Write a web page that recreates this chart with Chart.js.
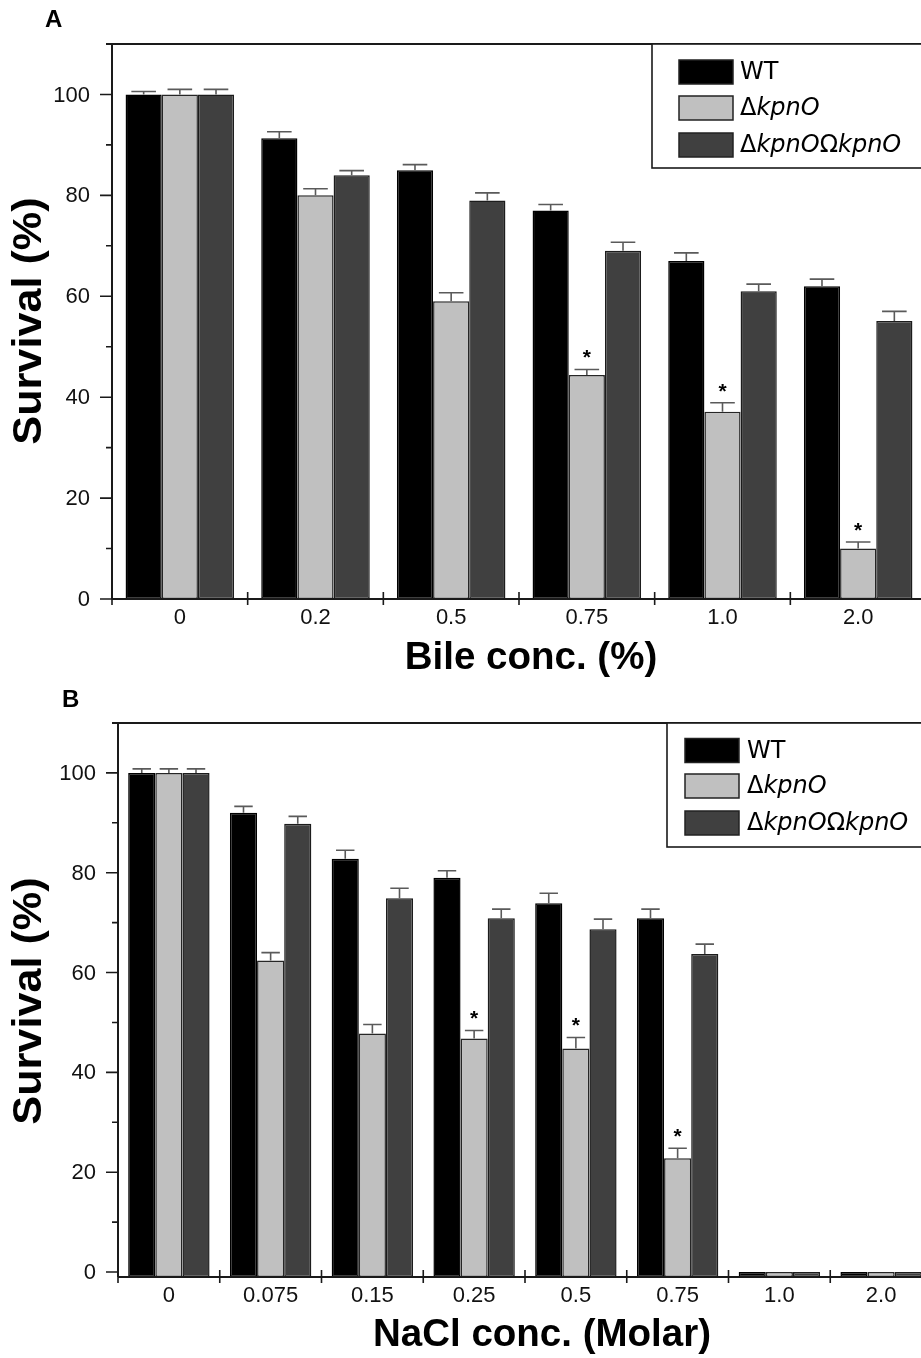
<!DOCTYPE html>
<html>
<head>
<meta charset="utf-8">
<script src="https://cdn.jsdelivr.net/npm/chart.js@4.4.1/dist/chart.umd.min.js"></script>
<style>
html,body{margin:0;padding:0;background:#fff;overflow:hidden;width:921px;height:1358px;}
canvas{position:absolute;left:0;}
#cA{top:0;}
#cB{top:680px;}
</style>
</head>
<body>
<canvas id="cA" width="940" height="680" style="width:940px;height:680px"></canvas>
<canvas id="cB" width="940" height="678" style="width:940px;height:678px"></canvas>
<script>
// ---------- Data ----------
const seriesNames = ['WT', '\u0394kpnO', '\u0394kpnO\u03A9kpnO'];

// Panel A: bile
const categoriesA = ['0', '0.2', '0.5', '0.75', '1.0', '2.0'];
const wtA   = [100, 91.3, 85.0, 77.0, 67.0, 62.0];
const koA   = [100, 80.0, 59.0, 44.4, 37.1, 10.0];
const compA = [100, 84.0, 79.0, 69.0, 61.0, 55.1];
const wtErrA   = [0.6, 1.3, 1.1, 1.2, 1.6, 1.4];
const koErrA   = [1.0, 1.3, 1.7, 1.1, 1.8, 1.3];
const compErrA = [1.0, 0.9, 1.5, 1.7, 1.4, 1.9];
const sigKoA   = [0, 0, 0, 1, 1, 1];

// Panel B: NaCl
const categoriesB = ['0', '0.075', '0.15', '0.25', '0.5', '0.75', '1.0', '2.0'];
const wtB   = [100, 92.0, 82.8, 79.0, 73.9, 70.9, 0, 0];
const koB   = [100, 62.4, 47.8, 46.8, 44.8, 22.8, 0, 0];
const compB = [100, 89.8, 74.9, 70.9, 68.7, 63.7, 0, 0];
const wtErrB   = [0.8, 1.3, 1.7, 1.4, 2.0, 1.8, 0, 0];
const koErrB   = [0.8, 1.6, 1.8, 1.6, 2.2, 2.0, 0, 0];
const compErrB = [0.8, 1.5, 2.0, 1.8, 2.0, 2.0, 0, 0];
const sigKoB   = [0, 0, 0, 1, 1, 1, 0, 0];

const yMajorTicks = [0, 20, 40, 60, 80, 100];
const yMinorTicks = [10, 30, 50, 70, 90];

// ---------- Styles ----------
const fills   = ['#000000', '#c0c0c0', '#404040'];
const borders = ['#000000', '#262626', '#1c1c1c'];
const AX = '#1a1a1a';
const TICKFONT = '22px "Liberation Sans", Arial, sans-serif';
const TITLEFONT = 'bold 38.5px "Liberation Sans", Arial, sans-serif';
const YTITLEFONT = 'bold 40px "Liberation Sans", Arial, sans-serif';

function drawLegendText(ctx, name, x, y) {
  ctx.textBaseline = 'middle';
  ctx.textAlign = 'left';
  ctx.fillStyle = '#000';
  let cx = x;
  if (name === 'WT') {
    ctx.font = '24px "DejaVu Sans", sans-serif';
    ctx.fillText(name, cx, y);
    return;
  }
  for (const ch of name) {
    const greek = /[\u0370-\u03FF]/.test(ch);
    ctx.font = (greek ? '' : 'italic ') + '24px "DejaVu Sans", sans-serif';
    ctx.fillText(ch, cx, y);
    cx += ctx.measureText(ch).width;
  }
}

function makePlugin(p) {
  return {
    id: 'custom' + p.tag,
    afterDatasetsDraw(chart) {
      const ctx = chart.ctx;
      const xs = chart.scales.x, ys = chart.scales.y;
      const area = chart.chartArea;
      ctx.save();
      // error bars
      ctx.strokeStyle = '#5a5a5a';
      ctx.lineWidth = 1.6;
      chart.data.datasets.forEach((ds, di) => {
        const meta = chart.getDatasetMeta(di);
        meta.data.forEach((el, j) => {
          const v = ds.data[j];
          const e = p.errors[di][j];
          if (!e) return;
          const yTop = ys.getPixelForValue(v);
          const yCap = ys.getPixelForValue(v + e);
          const half = el.width * 0.34;
          ctx.beginPath();
          ctx.moveTo(el.x, yTop);
          ctx.lineTo(el.x, yCap);
          ctx.moveTo(el.x - half, yCap);
          ctx.lineTo(el.x + half, yCap);
          ctx.stroke();
          if (p.sig[di] && p.sig[di][j]) {
            ctx.fillStyle = '#000';
            ctx.font = 'bold 21px "Liberation Sans", Arial, sans-serif';
            ctx.textAlign = 'center';
            ctx.textBaseline = 'middle';
            ctx.fillText('*', el.x, yCap - 11);
          }
        });
      });
      // axes
      ctx.strokeStyle = AX;
      ctx.lineWidth = 2;
      ctx.beginPath();
      ctx.moveTo(area.left - 6, area.top);
      ctx.lineTo(chart.width, area.top);
      ctx.moveTo(area.left, area.top);
      ctx.lineTo(area.left, area.bottom);
      ctx.moveTo(area.left, area.bottom);
      ctx.lineTo(chart.width, area.bottom);
      ctx.stroke();
      // y ticks
      ctx.lineWidth = 1.6;
      ctx.beginPath();
      yMajorTicks.forEach(t => {
        const y = ys.getPixelForValue(t);
        ctx.moveTo(area.left - 12, y); ctx.lineTo(area.left, y);
      });
      yMinorTicks.forEach(t => {
        const y = ys.getPixelForValue(t);
        ctx.moveTo(area.left - 6, y); ctx.lineTo(area.left, y);
      });
      // x ticks at category boundaries
      const n = p.categories.length;
      const cw = xs.getPixelForValue(1) - xs.getPixelForValue(0);
      for (let i = 0; i <= n; i++) {
        const x = xs.getPixelForValue(0) - cw / 2 + i * cw;
        ctx.moveTo(x, area.bottom - 7); ctx.lineTo(x, area.bottom + 6);
      }
      ctx.stroke();
      // tick labels
      ctx.fillStyle = '#111';
      ctx.font = TICKFONT;
      ctx.textAlign = 'right';
      ctx.textBaseline = 'middle';
      yMajorTicks.forEach(t => {
        ctx.fillText(String(t), area.left - 22, ys.getPixelForValue(t) + 1);
      });
      ctx.textAlign = 'center';
      ctx.textBaseline = 'middle';
      p.categories.forEach((c, i) => {
        ctx.fillText(c, xs.getPixelForValue(i), area.bottom + 19);
      });
      // axis titles
      ctx.fillStyle = '#000';
      ctx.font = TITLEFONT;
      ctx.textAlign = 'center';
      ctx.textBaseline = 'middle';
      ctx.fillText(p.xTitle, p.xTitlePos[0], p.xTitlePos[1]);
      ctx.save();
      ctx.font = YTITLEFONT;
      ctx.translate(p.yTitlePos[0], p.yTitlePos[1]);
      ctx.rotate(-Math.PI / 2);
      ctx.scale(1.08, 1);
      ctx.fillText('Survival (%)', 0, 0);
      ctx.restore();
      // panel letter
      ctx.font = 'bold 24px "Liberation Sans", Arial, sans-serif';
      ctx.textAlign = 'left';
      ctx.textBaseline = 'alphabetic';
      ctx.fillText(p.tag, p.tagPos[0], p.tagPos[1]);
      // legend
      const L = p.legend;
      ctx.fillStyle = '#fff';
      ctx.fillRect(L.left, area.top, chart.width - L.left + 5, L.bottom - area.top);
      ctx.strokeStyle = AX;
      ctx.lineWidth = 1.6;
      ctx.strokeRect(L.left, area.top, chart.width - L.left + 5, L.bottom - area.top);
      seriesNames.forEach((name, i) => {
        const cy = L.rows[i];
        ctx.fillStyle = fills[i];
        ctx.fillRect(L.sx, cy - 12, L.sw, 24);
        ctx.strokeStyle = '#222';
        ctx.lineWidth = 1.5;
        ctx.strokeRect(L.sx, cy - 12, L.sw, 24);
        drawLegendText(ctx, name, L.tx, cy + 1);
      });
      ctx.restore();
    }
  };
}

function buildChart(id, cats, series, yMin, base, padding, plugin) {
  return new Chart(document.getElementById(id), {
    type: 'bar',
    data: {
      labels: cats,
      datasets: series.map((d, i) => ({
        label: seriesNames[i],
        data: d,
        backgroundColor: fills[i],
        borderColor: borders[i],
        borderWidth: 1.5,
        borderSkipped: false,
        base: base,
        categoryPercentage: 0.8,
        barPercentage: 1.0
      }))
    },
    options: {
      responsive: false,
      animation: false,
      events: [],
      layout: { padding: padding },
      plugins: { legend: { display: false }, tooltip: { enabled: false } },
      scales: {
        x: { display: false, offset: true, grid: { display: false } },
        y: { display: false, min: yMin, max: 110, grid: { display: false } }
      }
    },
    plugins: [plugin]
  });
}

buildChart('cA', categoriesA, [wtA, koA, compA], 0, 0,
  { left: 112, top: 44, right: 14, bottom: 81 },
  makePlugin({
    tag: 'A', categories: categoriesA,
    errors: [wtErrA, koErrA, compErrA],
    sig: [null, sigKoA, null],
    xTitle: 'Bile conc. (%)', xTitlePos: [531, 658],
    yTitlePos: [30, 321], tagPos: [45, 27],
    legend: { left: 652, bottom: 168, sx: 679, sw: 54, tx: 740, rows: [72, 108, 145] }
  }));

buildChart('cB', categoriesB, [wtB, koB, compB], -1, -1,
  { left: 118, top: 43, right: 8, bottom: 81 },
  makePlugin({
    tag: 'B', categories: categoriesB,
    errors: [wtErrB, koErrB, compErrB],
    sig: [null, sigKoB, null],
    xTitle: 'NaCl conc. (Molar)', xTitlePos: [542, 655],
    yTitlePos: [30, 321], tagPos: [62, 27],
    legend: { left: 667, bottom: 167, sx: 685, sw: 54, tx: 747, rows: [70.5, 106, 143] }
  }));
</script>
</body>
</html>
